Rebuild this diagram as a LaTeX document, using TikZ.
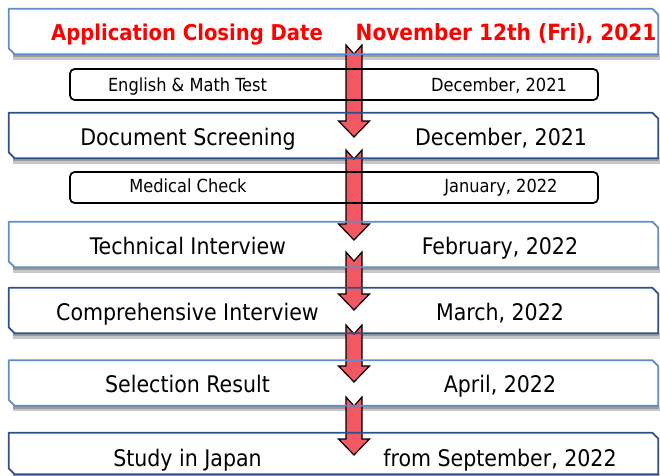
\documentclass[tikz,border=0pt]{standalone}
\usepackage{fontspec}
\setmainfont{DejaVu Sans Condensed}
\usepackage{tikz}
\usetikzlibrary{positioning}

\definecolor{lightframe}{RGB}{95,140,200}
\definecolor{darkframe}{RGB}{45,80,140}
\definecolor{arrowred}{RGB}{240,88,100}

\pgfdeclarelayer{boxfill}
\pgfdeclarelayer{arrowlayer}
\pgfsetlayers{boxfill,arrowlayer,main}

\tikzset{
  stagebox/.style={rectangle, minimum width=19.47cm, minimum height=1.35cm, inner sep=0pt},
  testbox/.style={rectangle, rounded corners=4pt,
    minimum width=15.84cm, minimum height=0.93cm, inner sep=0pt, line width=1.5pt},
  frame/.style={line width=1.6pt, line join=round},
  boxshadow/.style={fill=black, opacity=0.22},
  bigtext/.style={anchor=base, font=\fontsize{19.5}{23}\selectfont},
  smalltext/.style={anchor=base, font=\fontsize{15.4}{18}\selectfont},
  redtext/.style={anchor=base, font=\fontsize{18.6}{22}\selectfont\bfseries, text=red},
  arrowbody/.style={fill=arrowred, draw=black, line width=1pt, line join=miter},
}

\begin{document}
\begin{tikzpicture}[x=0.03cm,y=-0.03cm]
\useasboundingbox (0,0) rectangle (660,476);

% outline with cut top right and bottom left corners
\def\chamfer#1{(#1.north west) -- ([xshift=-5pt]#1.north east) -- ([yshift=-5pt]#1.north east)
    -- (#1.south east) -- ([xshift=5pt]#1.south west) -- ([yshift=5pt]#1.south west) -- cycle}

% white box and shadow under the frame, frame on top of the arrows
\def\stage#1(#2)#3#4;{%
    \node[stagebox, #4] (#1) at (#2) {};
    \begin{pgfonlayer}{boxfill}
        \path[boxshadow] ([xshift=4pt]#1.south west) rectangle ([xshift=1.5pt,yshift=-4.5pt]#1.south east);
        \path[boxshadow] ([xshift=4pt]#1.south west) rectangle ([xshift=1pt,yshift=-2.5pt]#1.south east);
        \fill[white] \chamfer{#1};
    \end{pgfonlayer}
    \draw[frame, draw=#3] \chamfer{#1};}

\def\test#1(#2);{%
    \begin{pgfonlayer}{boxfill}
        \node[testbox, fill=white] at (#2) {};
    \end{pgfonlayer}
    \node[testbox, draw=black] (#1) at (#2) {};}

\def\flowarrow#1#2{%
    \begin{pgfonlayer}{arrowlayer}
        \draw[arrowbody] (346,#1) -- (354,{#1+9}) -- (362,#1) -- (362,{#2-16}) --
            (369.5,{#2-16}) -- (354,#2) -- (338.5,{#2-16}) -- (346,{#2-16}) -- cycle;
    \end{pgfonlayer}}

\stage closing(333.5,31.5){lightframe}{};
\test test(334,84.5);
\stage screening(333.5,135.5){darkframe}{};
\test medical(334,187.5);
\stage technical(333.5,244.5){lightframe}{};
\stage comprehensive(333.5,310.5){darkframe}{};
\stage result(333.5,383){lightframe}{};
\stage study(333.5,453.5){darkframe}{minimum height=1.23cm};

\flowarrow{45}{137}
\flowarrow{150}{240}
\flowarrow{252}{310}
\flowarrow{325}{382}
\flowarrow{397}{455}

\node[redtext] (closingl) at (187,40.7) {Application Closing Date};
\node[redtext, font=\fontsize{19.1}{22}\selectfont\bfseries] (closingr) at (506,40.7) {November 12th (Fri), 2021};

\node[smalltext] (testl) at (187.5,91.7) {English \& Math Test};
\node[smalltext] (testr) at (499,91.7) {December, 2021};

\node[bigtext] (screeningl) at (188,145.6) {Document Screening};
\node[bigtext] (screeningr) at (501,145.6) {December, 2021};

\node[smalltext] (medicall) at (188,192.7) {Medical Check};
\node[smalltext] (medicalr) at (501,192.7) {January, 2022};

\node[bigtext] (technicall) at (188,254.3) {Technical Interview};
\node[bigtext] (technicalr) at (500,254.3) {February, 2022};

\node[bigtext] (comprehensivel) at (187.5,320.5) {Comprehensive Interview};
\node[bigtext] (comprehensiver) at (500,320.5) {March, 2022};

\node[bigtext] (resultl) at (187.5,392.7) {Selection Result};
\node[bigtext] (resultr) at (500,392.7) {April, 2022};

\node[bigtext] (studyl) at (187.5,466.5) {Study in Japan};
\node[bigtext] (studyr) at (500,466.5) {from September, 2022};

\end{tikzpicture}
\end{document}
